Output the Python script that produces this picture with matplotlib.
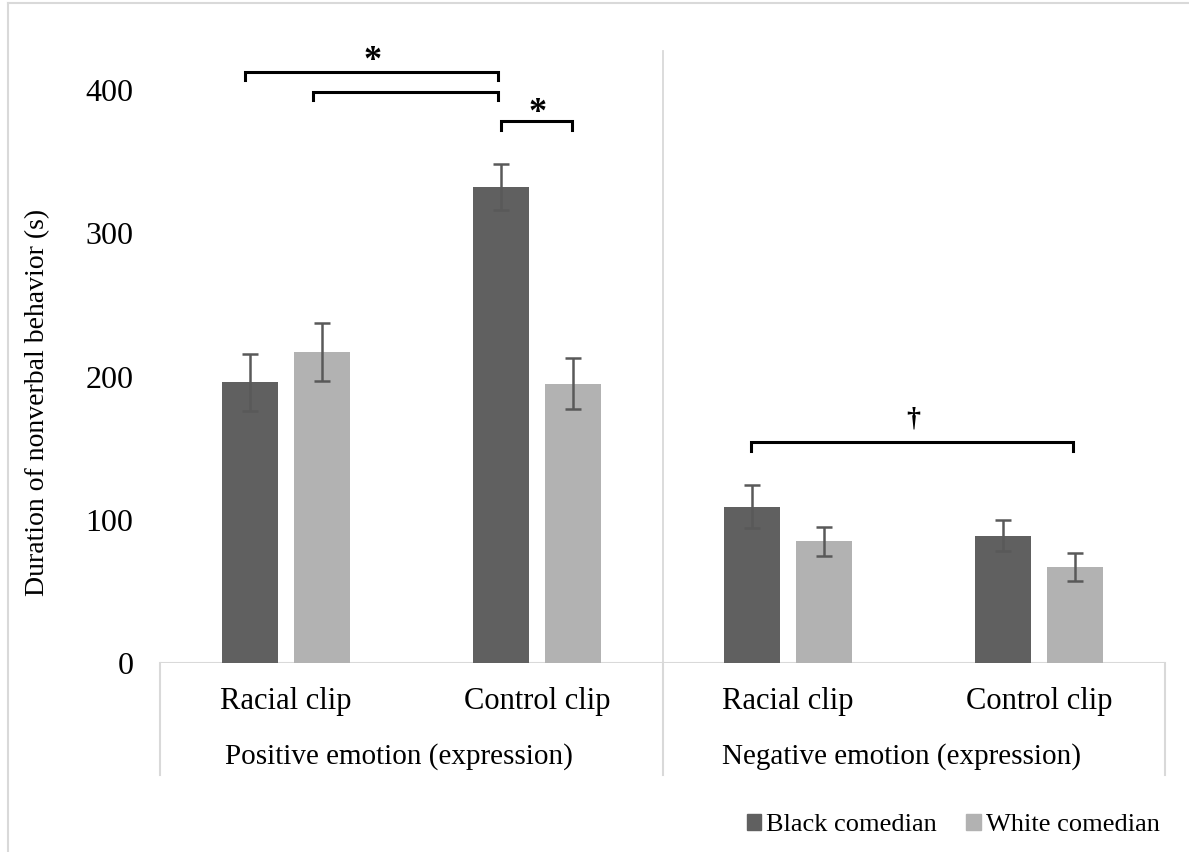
import matplotlib
matplotlib.use("Agg")
import matplotlib.pyplot as plt
from matplotlib.lines import Line2D
from matplotlib.patches import Patch

plt.rcParams['font.family'] = ['Liberation Serif', 'DejaVu Serif']

# ---- data ----
clips = ["Racial clip", "Control clip", "Racial clip", "Control clip"]
groups = ["Positive emotion (expression)", "Negative emotion (expression)"]
series = ["Black comedian", "White comedian"]
black_vals = [196, 332, 109, 89]
black_err = [20, 16, 15, 11]
white_vals = [217, 195, 85, 67]
white_err = [20, 18, 10, 9.5]
yticks = [0, 100, 200, 300, 400]

dark = "#606060"
light = "#b2b2b2"
gridc = "#d9d9d9"

W, H = 1189, 852
fig = plt.figure(figsize=(W / 100, H / 100), dpi=100)

x0, x1 = 160, 1165
y0, y400 = 663, 90
ax = fig.add_axes([x0 / W, 1 - y0 / H, (x1 - x0) / W, (y0 - y400) / H])
ax.set_xlim(-0.5, 3.5)
ax.set_ylim(0, 400)

xs = list(range(len(clips)))
bw = 0.223
off = 0.143
ax.bar([x - off for x in xs], black_vals, bw, color=dark, zorder=2)
ax.bar([x + off for x in xs], white_vals, bw, color=light, zorder=2)
ekw = dict(fmt="none", ecolor="#595959", elinewidth=1.8, capsize=6, capthick=1.8, zorder=3)
ax.errorbar([x - off for x in xs], black_vals, yerr=black_err, **ekw)
ax.errorbar([x + off for x in xs], white_vals, yerr=white_err, **ekw)

for s in ax.spines.values():
    s.set_visible(False)
ax.set_xticks([])
ax.set_yticks(yticks)
ax.set_yticklabels([str(v) for v in yticks], fontsize=23)
ax.tick_params(axis="y", length=0, pad=19)

# y-axis title
fig.text(38 / W, 1 - 402 / H, "Duration of nonverbal behavior (s)", rotation=90,
         ha="center", va="center", fontsize=20)

# horizontal category axis line and separators
ax.axhline(0, color=gridc, lw=1.5, zorder=1)
ax.plot([1.5, 1.5], [0, 427], color=gridc, lw=1.3, zorder=1, clip_on=False)
tr_sep = ax.get_xaxis_transform()
for xv in [-0.5, 1.5, 3.5]:
    ax.plot([xv, xv], [0, -(775 - 663) / (y0 - y400)], color=gridc, lw=1.5,
            transform=tr_sep, clip_on=False)

# category labels
for i, c in enumerate(clips):
    ax.text(i, -(702 - 663) / (y0 - y400), c, transform=tr_sep, ha="center",
            va="center", fontsize=22)
for j, g in enumerate(groups):
    ax.text(0.5 + 2 * j - 0.05, -(757 - 663) / (y0 - y400), g, transform=tr_sep,
            ha="center", va="center", fontsize=21)

# significance brackets
def px2x(p):
    return (p - x0) / (x1 - x0) * 4 - 0.5

def px2y(p):
    return (y0 - p) / (y0 - y400) * 400

def bracket(xa, xb, ytop, yleg, label=None, lx=None, ly=None, fs=20):
    ax.plot([px2x(xa), px2x(xa), px2x(xb), px2x(xb)],
            [px2y(yleg), px2y(ytop), px2y(ytop), px2y(yleg)],
            color="black", lw=2.2, clip_on=False, solid_joinstyle="miter")
    if label:
        ax.text(px2x(lx), px2y(ly), label, ha="center", va="center",
                fontsize=fs, fontweight="bold", clip_on=False)

bracket(245, 498, 72, 80, "*", 373, 62, 26)
bracket(313, 498, 92, 100)
bracket(501, 572, 121, 130, "*", 538, 114, 26)
bracket(751, 1073, 442, 451, "\u2020", 913, 419, 20)

# legend
handles = [Patch(color=dark), Patch(color=light)]
fig.legend(handles, series, loc="center right", bbox_to_anchor=(1173 / W, 1 - 825 / H),
           ncol=2, frameon=False, fontsize=19, handlelength=0.55, handleheight=0.6,
           handletextpad=0.2, columnspacing=1.1, borderpad=0)

# outer chart frame (partly visible)
fig.add_artist(Line2D([8 / W, 8 / W], [0, 1 - 3 / H], color=gridc, lw=1.5))
fig.add_artist(Line2D([8 / W, 1], [1 - 3 / H, 1 - 3 / H], color=gridc, lw=1.5))

fig.savefig("out.png", dpi=100)
